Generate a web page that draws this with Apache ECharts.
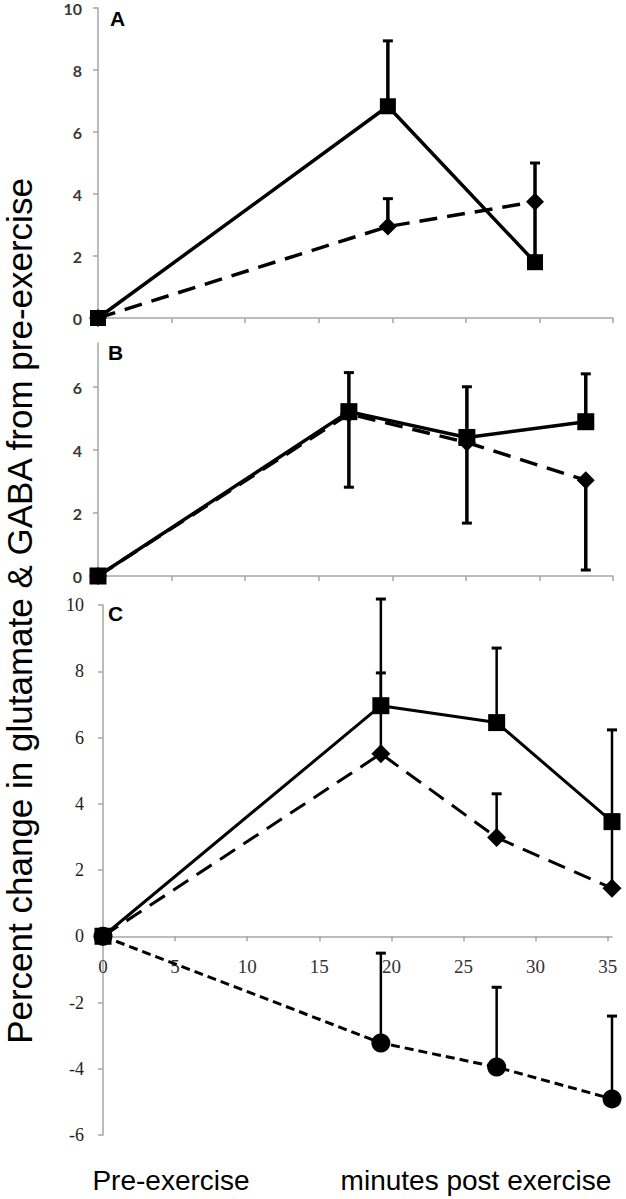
<!DOCTYPE html>
<html>
<head>
<meta charset="utf-8">
<script src="https://cdn.jsdelivr.net/npm/echarts@6/dist/echarts.min.js"></script>
<style>
html,body{margin:0;padding:0;background:#fff;}
#chart{width:626px;height:1199px;}
</style>
</head>
<body>
<div id="chart"></div>
<script>
// ---------- Panel A ----------
const xA = [0, 19.7, 29.7];
const sqA = [0, 6.83, 1.8];
const sqA_err = [null, 8.94, 3.75];
const dmA = [0, 2.95, 3.75];
const dmA_err = [null, 3.85, 5.0];

// ---------- Panel B ----------
const xB = [0, 17.05, 25.07, 33.15];
const sqB = [0, 5.22, 4.40, 4.9];
const sqB_err = [null, 6.46, 6.01, 6.42];
const dmB = [0, 5.15, 4.24, 3.04];
const dmB_err = [null, 2.82, 1.68, 0.19];

// ---------- Panel C ----------
const xC = [0, 19.27, 27.3, 35.3];
const sqC = [0, 6.96, 6.45, 3.46];
const sqC_err = [null, 10.18, 8.7, 6.23];
const dmC = [0, 5.51, 2.98, 1.45];
const dmC_err = [null, 7.95, 4.3, 3.46];
const ciC = [0, -3.22, -3.95, -4.91];
const ciC_err = [null, -0.51, -1.54, -2.41];

// tick labels
const yTicksA = [0, 2, 4, 6, 8, 10];
const yTicksB = [0, 2, 4, 6];
const yTicksC = [-6, -4, -2, 0, 2, 4, 6, 8, 10];
const xTicks = [0, 5, 10, 15, 20, 25, 30, 35];

const panelLabels = ['A', 'B', 'C'];
const yTitle = 'Percent change in glutamate & GABA from pre-exercise';
const xTitleLeft = 'Pre-exercise';
const xTitleRight = 'minutes post exercise';

function pts(xs, ys) { return xs.map((x, i) => [x, ys[i]]); }
function errs(xs, ys, es) {
  const out = [];
  xs.forEach((x, i) => { if (es[i] !== null) out.push([x, ys[i], es[i]]); });
  return out;
}

const AXC = '#a6a6a6';
function makeErr(lw) {
  return function (params, api) {
    const x = api.value(0), y0 = api.value(1), y1 = api.value(2);
    const p0 = api.coord([x, y0]), p1 = api.coord([x, y1]);
    return {
      type: 'group',
      children: [
        { type: 'line', shape: { x1: p0[0], y1: p0[1], x2: p1[0], y2: p1[1] }, style: { stroke: '#000', lineWidth: lw } },
        { type: 'line', shape: { x1: p1[0] - 5, y1: p1[1], x2: p1[0] + 5, y2: p1[1] }, style: { stroke: '#000', lineWidth: 3 } }
      ]
    };
  };
}

const sansLab = { fontFamily: 'Lato', fontWeight: 'bold', fontSize: 16, color: '#3a3a3a' };
const serifLab = { fontFamily: 'Liberation Serif', fontSize: 18, color: '#222' };
const serifLabX = { fontFamily: 'Liberation Serif', fontSize: 19, color: '#333' };

function xAxisCfg(grid, max, showLabels, showAll) {
  return {
    type: 'value', gridIndex: grid, min: 0, max: max, show: showAll,
    axisLine: { show: true, onZero: false, lineStyle: { color: AXC, width: 1.5 } },
    axisTick: { show: true, inside: false, length: 5, lineStyle: { color: AXC, width: 1.5 }, customValues: xTicks },
    axisLabel: Object.assign({ show: showLabels, margin: 21, customValues: xTicks }, serifLabX),
    splitLine: { show: false }
  };
}
function yAxisCfg(grid, min, max, ticks, lab, margin, show) {
  return {
    type: 'value', gridIndex: grid, min: min, max: max, show: show,
    axisLine: { show: true, onZero: false, lineStyle: { color: AXC, width: 1.5 } },
    axisTick: { show: true, inside: false, length: 5, lineStyle: { color: AXC, width: 1.5 }, customValues: ticks },
    axisLabel: Object.assign({ margin: margin, customValues: ticks }, lab),
    splitLine: { show: false }
  };
}

function lineSeries(grid, data, symbol, size, type, lw) {
  return {
    type: 'line', xAxisIndex: grid, yAxisIndex: grid, data: data,
    symbol: symbol, symbolSize: size, showSymbol: true,
    lineStyle: { color: '#000', width: lw, type: type },
    itemStyle: { color: '#000' }, z: 3, animation: false
  };
}
function errSeries(grid, data, lw) {
  return {
    type: 'custom', xAxisIndex: grid, yAxisIndex: grid, data: data,
    encode: { x: 0, y: [1, 2] }, renderItem: makeErr(lw), z: 2, animation: false, clip: false
  };
}

const longDash = [18, 10];
const shortDash = [9, 5];

// Panel C geometry: y from -6 to 10; the zero line sits 10/16 of the way down
const cTop = 605, cHeight = 530;
const cZeroHeight = cHeight * 10 / 16;

const option = {
  animation: false,
  backgroundColor: '#fff',
  grid: [
    { left: 98, width: 515, top: 8, height: 310, outerBoundsMode: 'none' },
    { left: 98, width: 515, top: 343, height: 233, outerBoundsMode: 'none' },
    { left: 103, width: 509, top: cTop, height: cHeight, outerBoundsMode: 'none' },
    // positive half of panel C, only used to place the x axis on the zero line
    { left: 103, width: 509, top: cTop, height: cZeroHeight, outerBoundsMode: 'none' }
  ],
  xAxis: [
    xAxisCfg(0, 35, false, true),
    xAxisCfg(1, 35, false, true),
    xAxisCfg(2, 35.3, false, false),
    xAxisCfg(3, 35.3, true, true)
  ],
  yAxis: [
    yAxisCfg(0, 0, 10, yTicksA, sansLab, 16, true),
    yAxisCfg(1, 0, 7.4, yTicksB, sansLab, 16, true),
    yAxisCfg(2, -6, 10, yTicksC, serifLab, 19, true),
    yAxisCfg(3, 0, 10, yTicksA, serifLab, 19, false)
  ],
  series: [
    errSeries(0, errs(xA, sqA, sqA_err), 3.5),
    errSeries(0, errs(xA, dmA, dmA_err), 3.5),
    lineSeries(0, pts(xA, dmA), 'diamond', 18, longDash, 3.5),
    lineSeries(0, pts(xA, sqA), 'rect', 16, 'solid', 3.5),

    errSeries(1, errs(xB, sqB, sqB_err), 3.5),
    errSeries(1, errs(xB, dmB, dmB_err), 3.5),
    lineSeries(1, pts(xB, dmB), 'diamond', 18, longDash, 3.5),
    lineSeries(1, pts(xB, sqB), 'rect', 17, 'solid', 3.5),

    errSeries(2, errs(xC, sqC, sqC_err), 2.5),
    errSeries(2, errs(xC, dmC, dmC_err), 2.5),
    errSeries(2, errs(xC, ciC, ciC_err), 2.5),
    lineSeries(2, pts(xC, dmC), 'diamond', 19, longDash, 3),
    lineSeries(2, pts(xC, sqC), 'rect', 17, 'solid', 3),
    lineSeries(2, pts(xC, ciC), 'circle', 19, shortDash, 3)
  ],
  graphic: [
    { type: 'text', left: 110, top: 8, style: { text: panelLabels[0], font: 'bold 21px "Liberation Sans"', fill: '#000' } },
    { type: 'text', left: 108, top: 342, style: { text: panelLabels[1], font: 'bold 21px "Liberation Sans"', fill: '#000' } },
    { type: 'text', left: 108, top: 603, style: { text: panelLabels[2], font: 'bold 21px "Liberation Sans"', fill: '#000' } },
    { type: 'text', x: 19, y: 611, rotation: Math.PI / 2,
      style: { text: yTitle, font: '35px "Liberation Sans"', fill: '#000', align: 'center', verticalAlign: 'middle' } },
    { type: 'text', x: 171, y: 1180,
      style: { text: xTitleLeft, font: '28px "Liberation Sans"', fill: '#000', align: 'center', verticalAlign: 'middle' } },
    { type: 'text', x: 476, y: 1180,
      style: { text: xTitleRight, font: '28px "Liberation Sans"', fill: '#000', align: 'center', verticalAlign: 'middle' } }
  ]
};

const chart = echarts.init(document.getElementById('chart'), null, { renderer: 'svg' });
chart.setOption(option);
</script>
</body>
</html>
